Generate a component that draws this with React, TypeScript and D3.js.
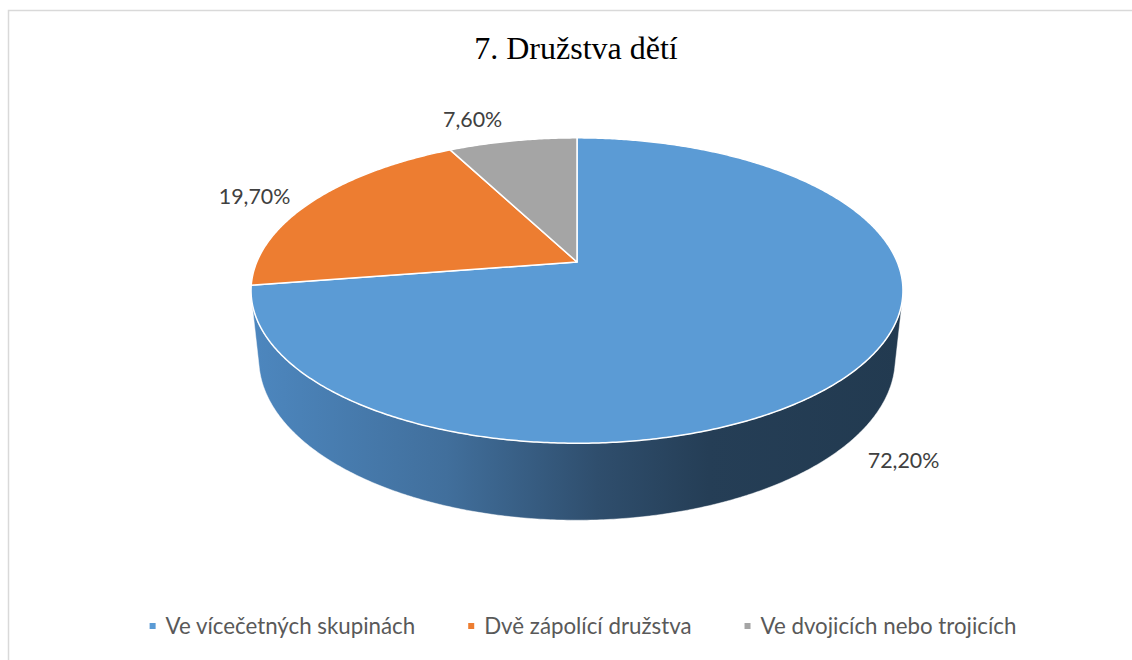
import React, { useEffect, useRef } from "react";
import * as d3 from "d3";

const TITLE = "7. Družstva dětí";
const categories = [
  "Ve vícečetných skupinách",
  "Dvě zápolící družstva",
  "Ve dvojicích nebo trojicích",
];
const values = [72.2, 19.7, 7.6];
const valueLabels = ["72,20%", "19,70%", "7,60%"];
const colors = ["#5b9bd5", "#ed7d31", "#a5a5a5"];

const W = 1132;
const H = 660;

// perspective camera for the 3D pie
const CX = 577;
const CY = 262;
const ALPHA = (27.4 * Math.PI) / 180;
const DIST = 4.75;
const FOCAL = 1521;
const THICK = 0.2414;

// label offsets (screen px) from the slice's outer rim midpoint
const LABEL_OFFSETS: [number, number][] = [
  [57, 16],
  [-59, -4],
  [-40, -22],
];

function project(x: number, y: number, z: number): [number, number] {
  const s = Math.sin(ALPHA);
  const c = Math.cos(ALPHA);
  const depth = DIST - y * s + z * c;
  const up = y * c + z * s;
  return [CX + (FOCAL * x) / depth, CY - (FOCAL * up) / depth];
}

function rim(theta: number, y: number, r = 1): [number, number] {
  return project(r * Math.sin(theta), y, r * Math.cos(theta));
}

function arcPoints(a0: number, a1: number, y: number): [number, number][] {
  const n = Math.max(2, Math.ceil(Math.abs(a1 - a0) / (Math.PI / 360)));
  const pts: [number, number][] = [];
  for (let i = 0; i <= n; i++) {
    pts.push(rim(a0 + ((a1 - a0) * i) / n, y));
  }
  return pts;
}

export default function App() {
  const ref = useRef<SVGSVGElement | null>(null);

  useEffect(() => {
    const svg = d3.select(ref.current);
    svg.selectAll("*").remove();

    const defs = svg.append("defs");
    const grad = defs
      .append("linearGradient")
      .attr("id", "sideGrad")
      .attr("gradientUnits", "userSpaceOnUse")
      .attr("x1", 250)
      .attr("x2", 905)
      .attr("y1", 0)
      .attr("y2", 0);
    [
      [0, "#4d87bf"],
      [0.3, "#416f9c"],
      [0.53, "#2f4e6d"],
      [0.7, "#253e56"],
      [1, "#223a50"],
    ].forEach(([o, c]) =>
      grad.append("stop").attr("offset", o as number).attr("stop-color", c as string)
    );

    // chart border
    svg
      .append("rect")
      .attr("x", 8.5)
      .attr("y", 10.5)
      .attr("width", 1300)
      .attr("height", 800)
      .attr("fill", "#ffffff")
      .attr("stroke", "#d9d9d9")
      .attr("stroke-width", 1.5);

    // title
    svg
      .append("text")
      .attr("x", 576)
      .attr("y", 59)
      .attr("text-anchor", "middle")
      .attr("font-family", "'Liberation Serif', 'Times New Roman', serif")
      .attr("font-size", 32)
      .attr("fill", "#000")
      .text(TITLE);

    const arcs = d3.pie<number>().sort(null).value((d) => d)(values);

    // visible side wall range: cos(theta) < -1/L
    const L = DIST * Math.cos(ALPHA);
    const tVis = Math.acos(-1 / L);
    const visA = tVis;
    const visB = 2 * Math.PI - tVis;

    const line = d3.line();

    const sideG = svg.append("g");
    arcs.forEach((a, i) => {
      const s0 = Math.max(a.startAngle, visA);
      const s1 = Math.min(a.endAngle, visB);
      if (s1 <= s0) return;
      const top = arcPoints(s0, s1, 0);
      const bot = arcPoints(s1, s0, -THICK);
      sideG
        .append("path")
        .attr("d", line([...top, ...bot]) + "Z")
        .attr("fill", i === 0 ? "url(#sideGrad)" : d3.color(colors[i])!.darker(1.2).toString())
        .attr("stroke", "#ffffff")
        .attr("stroke-width", 0.8)
        .attr("stroke-opacity", 0.6);
    });

    const topG = svg.append("g");
    arcs.forEach((a, i) => {
      const pts = [project(0, 0, 0), ...arcPoints(a.startAngle, a.endAngle, 0)];
      topG
        .append("path")
        .attr("d", line(pts) + "Z")
        .attr("fill", colors[i])
        .attr("stroke", "#ffffff")
        .attr("stroke-width", 1.5)
        .attr("stroke-linejoin", "round");
    });

    // data labels
    const lblG = svg.append("g");
    arcs.forEach((a, i) => {
      const mid = (a.startAngle + a.endAngle) / 2;
      const plane = Math.cos(mid) < 0 ? -THICK : 0;
      const [px, py] = rim(mid, plane);
      const [dx, dy] = LABEL_OFFSETS[i];
      lblG
        .append("text")
        .attr("x", px + dx)
        .attr("y", py + dy)
        .attr("dy", "0.36em")
        .attr("text-anchor", "middle")
        .attr("font-family", "Lato, 'Liberation Sans', sans-serif")
        .attr("font-size", 21.4)
        .attr("fill", "#404040")
        .text(valueLabels[i]);
    });

    // legend
    const legG = svg.append("g");
    const items = categories.map((c, i) => {
      const g = legG.append("g");
      g.append("rect")
        .attr("width", 6)
        .attr("height", 6)
        .attr("y", 623)
        .attr("fill", colors[i]);
      const t = g
        .append("text")
        .attr("x", 16)
        .attr("y", 634)
        .attr("font-family", "Lato, 'Liberation Sans', sans-serif")
        .attr("font-size", 22.3)
        .attr("fill", "#595959")
        .text(c);
      const w = (t.node() as SVGTextElement).getComputedTextLength();
      return { g, w: 16 + w };
    });
    const gap = 53;
    const total = d3.sum(items, (d) => d.w) + gap * (items.length - 1);
    let x = 583 - total / 2;
    items.forEach((it) => {
      it.g.attr("transform", `translate(${x},0)`);
      x += it.w + gap;
    });
  }, []);

  return (
    <svg
      ref={ref}
      width={W}
      height={H}
      style={{ position: "fixed", left: 0, top: 0, display: "block", background: "#fff" }}
    />
  );
}
